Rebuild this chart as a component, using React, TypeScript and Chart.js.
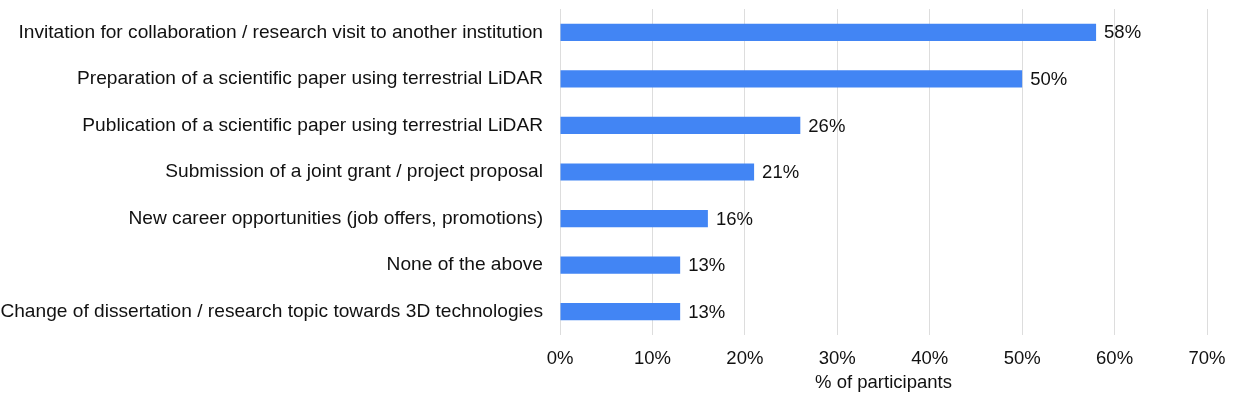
import React, { useEffect, useRef } from "react";
import { Chart, registerables } from "chart.js";

Chart.register(...registerables);

const categories = [
  "Invitation for collaboration / research visit to another institution",
  "Preparation of a scientific paper using terrestrial LiDAR",
  "Publication of a scientific paper using terrestrial LiDAR",
  "Submission of a joint grant / project proposal",
  "New career opportunities (job offers, promotions)",
  "None of the above",
  "Change of dissertation / research topic towards 3D technologies",
];
const values = [58, 50, 26, 21, 16, 13, 13];
const xTicks = [0, 10, 20, 30, 40, 50, 60, 70];

const FONT = "'Liberation Sans', Arial, sans-serif";

const labelPlugin = {
  id: "barLabels",
  afterDatasetsDraw(chart: any) {
    const ctx = chart.ctx;
    const meta = chart.getDatasetMeta(0);
    ctx.save();
    ctx.font = `18.5px ${FONT}`;
    ctx.fillStyle = "#111111";
    ctx.textAlign = "left";
    ctx.textBaseline = "middle";
    meta.data.forEach((bar: any, i: number) => {
      ctx.fillText(`${values[i]}%`, bar.x + 8, bar.y + 1);
    });
    ctx.restore();
  },
};

export default function App() {
  const ref = useRef<HTMLCanvasElement>(null);
  useEffect(() => {
    document.body.style.margin = "0";
    const chart = new Chart(ref.current!, {
      type: "bar",
      data: {
        labels: categories,
        datasets: [
          {
            data: values,
            backgroundColor: "#4285F4",
            borderWidth: 0,
            barPercentage: 0.37,
            categoryPercentage: 1,
          },
        ],
      },
      options: {
        indexAxis: "y",
        animation: false,
        responsive: false,
        maintainAspectRatio: false,
        layout: { padding: { top: 9, right: 30, bottom: 0, left: 0 } },
        plugins: {
          legend: { display: false },
          tooltip: { enabled: false },
        },
        scales: {
          x: {
            min: 0,
            max: 70,
            afterBuildTicks: (scale: any) => {
              scale.ticks = xTicks.map((v) => ({ value: v }));
            },
            afterFit: (scale: any) => {
              scale.height = 59;
              scale.paddingLeft = 0;
              scale.paddingRight = 0;
            },
            grid: { color: "#dddddd", drawTicks: false, lineWidth: 1 },
            border: { display: false },
            ticks: {
              padding: 13,
              color: "#111111",
              font: { family: FONT, size: 18.5 },
              callback: (v: any) => `${v}%`,
            },
            title: {
              display: true,
              text: "% of participants",
              color: "#111111",
              font: { family: FONT, size: 18.5 },
              padding: { top: 0, bottom: 0 },
            },
          },
          y: {
            afterFit: (scale: any) => {
              scale.width = 560;
              scale.paddingTop = 0;
              scale.paddingBottom = 0;
            },
            grid: { display: false, drawTicks: false },
            border: { display: false },
            ticks: {
              padding: 17,
              color: "#111111",
              font: { family: FONT, size: 19.15 },
              autoSkip: false,
            },
          },
        },
      },
      plugins: [labelPlugin],
    });
    return () => chart.destroy();
  }, []);
  return (
    <div style={{ width: 1237, height: 394 }}>
      <canvas ref={ref} width={1237} height={394} style={{ display: "block" }} />
    </div>
  );
}
